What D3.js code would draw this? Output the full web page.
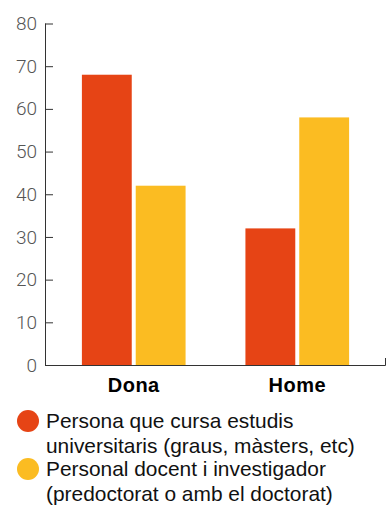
<!DOCTYPE html>
<html><head><meta charset="utf-8">
<script src="https://cdn.jsdelivr.net/npm/d3@7"></script>
<style>
body{margin:0;background:#fff;}
svg{display:block;}
</style></head>
<body>
<script>
const categories = ["Dona", "Home"];
const seriesNames = ["Persona que cursa estudis universitaris (graus, màsters, etc)", "Personal docent i investigador (predoctorat o amb el doctorat)"];
const seriesA = [68, 32];
const seriesB = [42, 58];
const yTicks = [0, 10, 20, 30, 40, 50, 60, 70, 80];
const legendLines = [["Persona que cursa estudis", "universitaris (graus, màsters, etc)"], ["Personal docent i investigador", "(predoctorat o amb el doctorat)"]];
const colors = ["#E64415", "#FBBC22"];

const W = 387, H = 507;
const svg = d3.select("body").append("svg").attr("width", W).attr("height", H);

const x0 = d3.scaleBand().domain(categories).range([45, 386]).paddingInner(0.366).paddingOuter(0.2256);
const x1 = d3.scaleBand().domain([0, 1]).range([0, x0.bandwidth()]).paddingInner(0.074);
const y = d3.scaleLinear().domain([0, 80]).range([365, 23.5]);

const data = categories.map((c, i) => ({cat: c, vals: [seriesA[i], seriesB[i]]}));

const g = svg.append("g").selectAll("g").data(data).join("g")
  .attr("transform", d => `translate(${x0(d.cat)},0)`);
g.selectAll("rect").data(d => d.vals).join("rect")
  .attr("x", (d, i) => x1(i)).attr("width", x1.bandwidth())
  .attr("y", d => y(d)).attr("height", d => y(0) - y(d))
  .attr("fill", (d, i) => colors[i]);

// y axis
const yAxis = svg.append("g").attr("transform", "translate(45,0)")
  .call(d3.axisRight(y).tickValues(yTicks).tickSize(8).tickFormat(d3.format("d")));
yAxis.select(".domain").attr("stroke", "#333").attr("d", `M0.5,${y(80)}V${y(0)}`);
yAxis.selectAll(".tick line").attr("stroke", "#333");
yAxis.selectAll(".tick text").attr("x", -8).attr("text-anchor", "end")
  .attr("fill", "#555").attr("font-family", "Roboto").attr("font-weight", 300).attr("font-size", 19);

// x axis
const xAxis = svg.append("g").attr("transform", `translate(0,${y(0)})`)
  .call(d3.axisBottom(x0).tickSize(0).tickPadding(0));
xAxis.select(".domain").attr("stroke", "#333").attr("d", `M45,0.5H385.5V-7`);
xAxis.selectAll(".tick text").attr("dy", 0).attr("y", 27)
  .attr("fill", "#000").attr("font-family", "Liberation Sans, Arial, sans-serif")
  .attr("font-weight", "bold").attr("font-size", 20).attr("letter-spacing", 0.5);

// legend
const leg = svg.append("g").selectAll("g").data(legendLines).join("g")
  .attr("transform", (d, i) => `translate(0,${421 + i * 48})`);
leg.append("circle").attr("cx", 28).attr("cy", 0).attr("r", 11).attr("fill", (d, i) => colors[i]);
leg.append("text").attr("font-family", "Liberation Sans, Arial, sans-serif").attr("font-size", 20.9).attr("fill", "#111")
  .selectAll("tspan").data(d => d).join("tspan")
  .attr("x", 46).attr("y", (d, i) => 7 + i * 24.5).text(d => d);
</script>
</body></html>
